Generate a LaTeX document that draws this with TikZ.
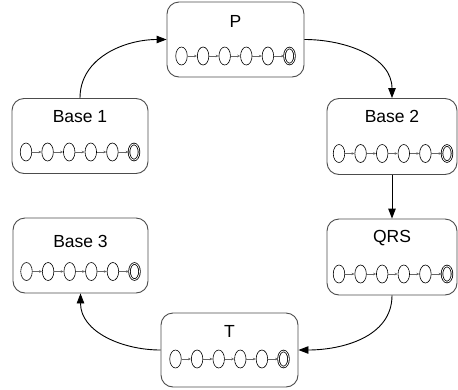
\documentclass[tikz,border=0pt]{standalone}
\usepackage{fontspec}
\setmainfont{Liberation Sans}
\usetikzlibrary{shapes.geometric,arrows.meta}
\tikzset{
  statebox/.style={draw=black!70, line width=0.9pt, rounded corners=12pt, inner sep=0pt},
  titletext/.style={font=\fontsize{17.5}{20}\selectfont, inner sep=0pt},
  bead/.style={ellipse, draw=black, line width=0.6pt, minimum width=11.5pt, minimum height=18pt, inner sep=0pt},
  lastbead/.style={bead, double, double distance=0.8pt, line width=0.8pt, minimum width=10pt, minimum height=16pt},
  link/.style={draw=black!60, line width=0.6pt, -{Stealth[length=3pt,width=2.5pt]}},
  flow/.style={draw=black, line width=0.9pt, -{Triangle[length=10pt,width=7.5pt]}},
}
\newcommand\beadchain[2]{%
  \foreach \i in {1,...,6} {
    \pgfmathsetmacro\dx{(\i-3.5)*21.6}
    \ifnum\i=6 \node[lastbead] (#1\i) at ([xshift=\dx pt]#2) {};
    \else \node[bead] (#1\i) at ([xshift=\dx pt]#2) {}; \fi
  }
  \foreach \i [evaluate=\i as \j using int(\i+1)] in {1,...,5} {\draw[link] (#1\i) -- (#1\j);}
}
\begin{document}
\begin{tikzpicture}[x=1pt,y=-1pt]
\useasboundingbox (0,0) rectangle (458,389);
% boxes
\node[statebox, minimum width=137pt, minimum height=75pt] (p) at (235.5,39.5) {};
\node[statebox, minimum width=136pt, minimum height=75pt] (b1) at (80,136) {};
\node[statebox, minimum width=130pt, minimum height=76pt] (b2) at (392,136.5) {};
\node[statebox, minimum width=130pt, minimum height=76pt] (q) at (392,257) {};
\node[statebox, minimum width=135pt, minimum height=75pt] (b3) at (80.5,255.5) {};
\node[statebox, minimum width=137pt, minimum height=74pt] (t) at (229.5,350) {};
% titles
\node[titletext] (pt) at (235.5,21) {P};
\node[titletext] (b1t) at (80,116.5) {Base 1};
\node[titletext] (b2t) at (392,116) {Base 2};
\node[titletext] (qt) at (392,238.5) {QRS};
\node[titletext] (b3t) at (80.5,241.5) {Base 3};
\node[titletext] (tt) at (229.5,331) {T};
% chains
\coordinate (pc) at (235.5,56);
\coordinate (b1c) at (80,152);
\coordinate (b2c) at (393,153.5);
\coordinate (qc) at (393,274);
\coordinate (b3c) at (80.5,271.5);
\coordinate (tc) at (229.5,359);
\beadchain{pe}{pc}
\beadchain{bae}{b1c}
\beadchain{bbe}{b2c}
\beadchain{qe}{qc}
\beadchain{bce}{b3c}
\beadchain{te}{tc}
% flow arrows
\draw[flow] (b1.north) to[out=90,in=180] (p.west);
\draw[flow] (p.east) to[out=0,in=90] (b2.north);
\draw[flow] (b2.south) -- (q.north);
\draw[flow] (q.south) to[out=-90,in=0] (t.east);
\draw[flow] (t.west) to[out=180,in=-90] (b3.south);
\end{tikzpicture}
\end{document}
